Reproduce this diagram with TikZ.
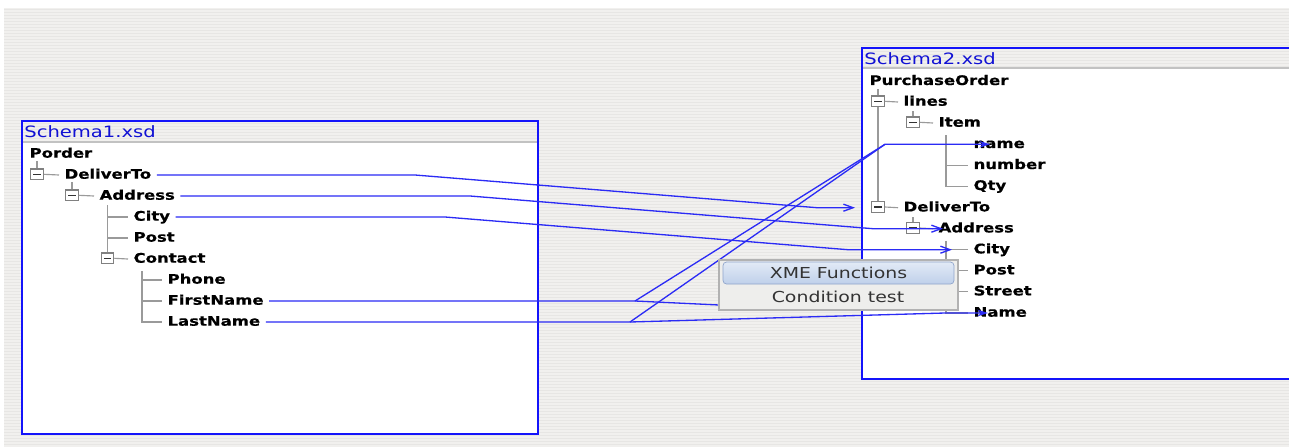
\documentclass[tikz,border=0pt]{standalone}
\usepackage{fontspec}
\usetikzlibrary{arrows.meta}
\newfontfamily\uifont{DejaVu Sans}[FakeStretch=1.25, BoldFeatures={FakeBold=0.6}]
\definecolor{wire}{HTML}{2B2BF5}
\definecolor{frame}{HTML}{1414FA}
\definecolor{canvas}{HTML}{F1F0EE}
\definecolor{stripe}{HTML}{E7E6E4}
\definecolor{treeline}{HTML}{9A9A9A}
\definecolor{menubg}{HTML}{EEEEEC}
\definecolor{btntop}{HTML}{E2EAF6}
\definecolor{btnbot}{HTML}{BFD0EA}
\definecolor{btnedge}{HTML}{8EA4CB}
\tikzset{
  x=0.02cm, y=-0.02cm,
  lbl/.style={anchor=west, inner xsep=3pt, inner ysep=1pt, text height=5.5pt, text depth=1.3pt, font=\uifont\bfseries\fontsize{7.5pt}{8pt}\selectfont},
  schemaname/.style={anchor=west, inner sep=0pt, text=frame!85!black, font=\uifont\fontsize{8.9pt}{10pt}\selectfont},
  expander/.style={draw=black!50, fill=white, line width=0.7pt, minimum width=7pt, minimum height=6pt, inner sep=0pt,
    path picture={\draw[black!80, line width=0.8pt] ([xshift=-2pt]path picture bounding box.center) -- ([xshift=2pt]path picture bounding box.center);}},
  treeln/.style={treeline, line width=0.65pt},
  wirel/.style={wire, line width=0.75pt},
  barb/.style={wirel, -{Straight Barb[length=5.5pt, width=4pt]}},
  hotwire/.style={wirel, -{Stealth[length=6pt, width=3.8pt]}},
  schema/.style={frame, line width=1.2pt},
  menuitem/.style={inner sep=0pt, text=black!80, font=\uifont\fontsize{8.6pt}{10pt}\selectfont},
  menubutton/.style={menuitem, draw=btnedge, top color=btntop, bottom color=btnbot, rounded corners=2pt, minimum width=4.62cm, minimum height=0.44cm}}
\begin{document}
\begin{tikzpicture}
\useasboundingbox (0,0) rectangle (1289,447);
% striped canvas
\fill[canvas] (4,8) rectangle (1289,447);
\foreach \y in {9,12,...,444} \fill[stripe] (4,\y) rectangle (1289,\y+1);

% Schema1 panel
\fill[white] (22,142) rectangle (538,434);
\draw[treeline!60, line width=0.6pt] (22,142) -- (538,142);
\draw[schema] (22,121) rectangle (538,434);
\node[schemaname] (s1title) at (24,132) {Schema1.xsd};

\node[lbl] (s1Porder) at (24,154) {Porder};
\node[expander] (s1dX) at (37,174.3) {};
\node[lbl] (s1DeliverTo) at (59,175) {DeliverTo};
\node[expander] (s1aX) at (72,195.3) {};
\node[lbl] (s1Address) at (94,196) {Address};
\node[lbl] (s1City) at (128,217) {City};
\node[lbl] (s1Post) at (128,238) {Post};
\node[expander] (s1cX) at (107.5,258.3) {};
\node[lbl] (s1Contact) at (128,259) {Contact};
\node[lbl] (s1Phone) at (162,280) {Phone};
\node[lbl] (s1FirstName) at (162,301) {FirstName};
\node[lbl] (s1LastName) at (162,322) {LastName};

\draw[treeln] (s1dX.north) -- ++(0,-7);
\draw[treeln] (s1dX.east) -- (s1DeliverTo.west);
\draw[treeln] (s1aX.north) -- ++(0,-7);
\draw[treeln] (s1aX.east) -- (s1Address.west);
\draw[treeln] (s1cX.north) -- ++(0,-47);
\foreach \n in {s1City,s1Post} \draw[treeln] (\n.west -| s1cX) -- (\n.west);
\draw[treeln] (s1cX.east) -- (s1Contact.west);
\coordinate (s1cv) at ([shift={(14,4)}]s1Contact.south west);
\draw[treeln] (s1cv) |- (s1LastName.west);
\foreach \n in {s1Phone,s1FirstName} \draw[treeln] (\n.west -| s1cv) -- (\n.west);

% Schema2 panel
\fill[white] (862,68) rectangle (1289,379);
\draw[treeline!60, line width=0.6pt] (862,68) -- (1289,68);
\draw[schema] (1295,48) -- (862,48) -- (862,379) -- (1295,379);
\node[schemaname] (s2title) at (864,59) {Schema2.xsd};

\node[lbl] (s2PurchaseOrder) at (864,81.3) {PurchaseOrder};
\node[expander] (s2lX) at (878,101.3) {};
\node[lbl] (s2lines) at (898,102) {lines};
\node[expander] (s2iX) at (913,122.3) {};
\node[lbl] (s2Item) at (933,123) {Item};
\node[lbl] (s2name) at (968,144.3) {name};
\node[lbl] (s2number) at (968,165.3) {number};
\node[lbl] (s2Qty) at (968,186.3) {Qty};
\node[expander] (s2dX) at (878,207) {};
\node[lbl] (s2DeliverTo) at (898,207.7) {DeliverTo};
\node[expander] (s2aX) at (913,228) {};
\node[lbl] (s2Address) at (933,228.7) {Address};
\node[lbl] (s2City) at (968,249.7) {City};
\node[lbl] (s2Post) at (968,270.7) {Post};
\node[lbl] (s2Street) at (968,291.7) {Street};
\node[lbl] (s2Name) at (968,313) {Name};

\draw[treeln] (s2lX.north) -- ++(0,-6);
\draw[treeln] (s2lX.south) -- (s2dX.north);
\draw[treeln] (s2lX.east) -- (s2lines.west);
\draw[treeln] (s2iX.north) -- ++(0,-5);
\draw[treeln] (s2iX.east) -- (s2Item.west);
\coordinate (s2iv) at ([shift={(13,4)}]s2Item.south west);
\draw[treeln] (s2iv) |- (s2Qty.west);
\foreach \n in {s2name,s2number} \draw[treeln] (\n.west -| s2iv) -- (\n.west);
\draw[treeln] (s2dX.east) -- (s2DeliverTo.west);
\draw[treeln] (s2aX.north) -- ++(0,-5);
\draw[treeln] (s2aX.east) -- (s2Address.west);
\coordinate (s2av) at ([shift={(13,4)}]s2Address.south west);
\draw[treeln] (s2av) |- (s2Name.west);
\foreach \n in {s2City,s2Post,s2Street} \draw[treeln] (\n.west -| s2av) -- (\n.west);

% mappings
\coordinate (fnJoin) at (635,301);
\coordinate (lnJoin) at (630,322);
\coordinate (nmJoin) at (885,144.3);
\coordinate (menuEdge) at (719,305);
\draw[barb] (s1DeliverTo.east) -- (415,175) -- (817,207.7) -- ([shift={(-43,0)}]s2DeliverTo.west);
\draw[barb] (s1Address.east) -- (470,196) -- (873,228.7) -- ([shift={(10,0)}]s2Address.west);
\draw[barb] (s1City.east) -- (445,217) -- (848,249.7) -- ([shift={(-16,0)}]s2City.west);
\draw[wirel] (s1FirstName.east) -- (fnJoin) -- (nmJoin);
\draw[hotwire] (s1LastName.east) -- (lnJoin) -- (nmJoin) -- ([shift={(22,0)}]s2name.west);
\draw[hotwire] (lnJoin) -- (945,313) -- ([shift={(20,0)}]s2Name.west);
\draw[wirel] (fnJoin) -- (menuEdge);

% popup menu
\filldraw[fill=menubg, draw=black!30, line width=0.6pt] (719,260) rectangle (958,310);
\node[menubutton] (xme) at (838.5,273) {XME Functions};
\node[menuitem] (cond) at (838,296.5) {Condition test};
\end{tikzpicture}
\end{document}
